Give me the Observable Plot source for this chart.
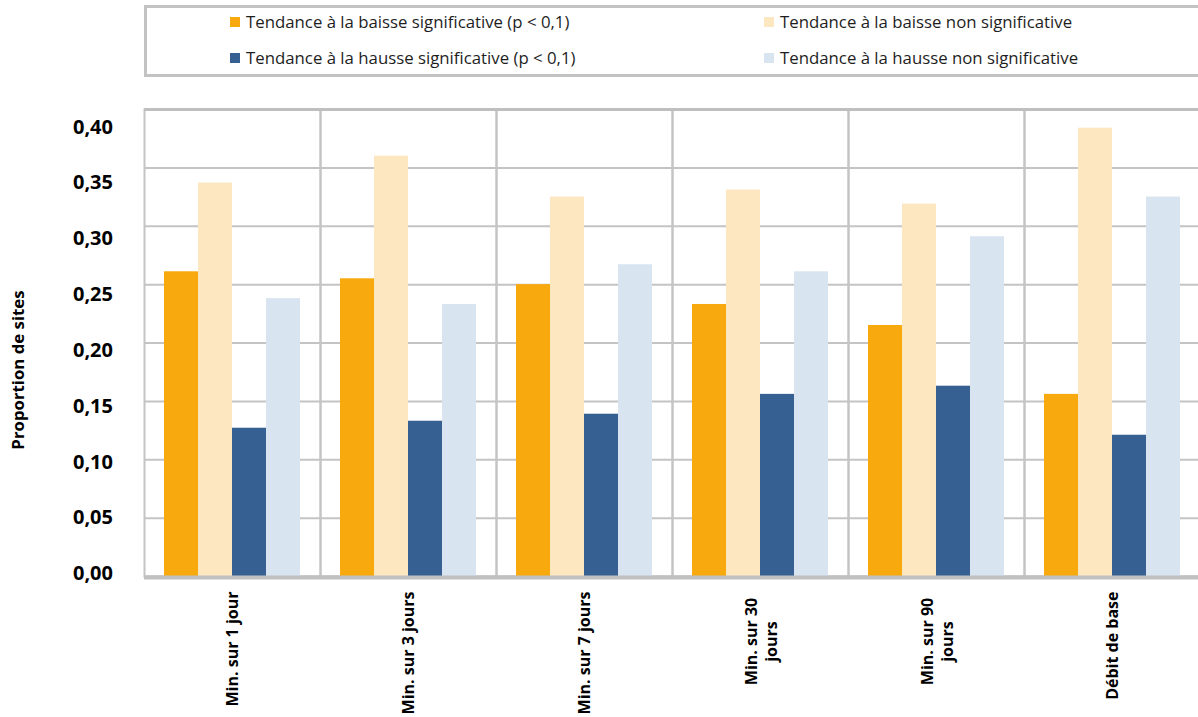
<!DOCTYPE html>
<html>
<head>
<meta charset="utf-8">
<script src="https://cdn.jsdelivr.net/npm/d3@7"></script>
<script src="https://cdn.jsdelivr.net/npm/@observablehq/plot@0.6"></script>
<style>
  html, body { margin: 0; padding: 0; background: #fff; overflow: hidden; }
  #chart { position: relative; width: 1198px; height: 717px; font-family: "Open Sans", sans-serif; }
  #legend { position: relative; height: 100px; }
  #legend .box { position: absolute; left: 144px; top: 5px; width: 1060px; height: 72px; box-sizing: border-box; border: 3px solid #c3c3c3; }
  #legend .item { position: absolute; height: 20px; line-height: 20px; display: flex; align-items: center; font-size: 16.8px; color: #1e1e1e; white-space: nowrap; }
  #legend .swatch { width: 10px; height: 10px; margin-right: 6px; flex: none; }
  #plots { position: relative; height: 617px; }
  #plots > svg { position: absolute; top: 0; left: 0; }
  #ytitle { position: absolute; left: 17px; top: 370px; transform: translate(-50%, -50%) rotate(-90deg); font-weight: 700; font-size: 16.8px; color: #000; white-space: nowrap; }
</style>
</head>
<body>
<div id="chart">
  <div id="legend"><div class="box"></div></div>
  <div id="plots"></div>
  <div id="ytitle">Proportion de sites</div>
</div>
<script>
// Durations over which the minimum flow is computed, plus base flow
const categories = [
  "Min. sur 1 jour",
  "Min. sur 3 jours",
  "Min. sur 7 jours",
  "Min. sur 30 jours",
  "Min. sur 90 jours",
  "Débit de base"
];

// Trend classes (legend order)
const series = [
  "Tendance à la baisse significative (p < 0,1)",
  "Tendance à la baisse non significative",
  "Tendance à la hausse significative (p < 0,1)",
  "Tendance à la hausse non significative"
];

// Proportion of sites per trend class, one value per category
const baisseSignificative    = [0.261, 0.255, 0.250, 0.233, 0.215, 0.156];
const baisseNonSignificative = [0.337, 0.360, 0.325, 0.331, 0.319, 0.384];
const hausseSignificative    = [0.127, 0.133, 0.139, 0.156, 0.163, 0.121];
const hausseNonSignificative = [0.238, 0.233, 0.267, 0.261, 0.291, 0.325];

const colors = ["#F7A90D", "#FDE7C0", "#366092", "#D8E4F0"];

const yTicks = [0, 0.05, 0.10, 0.15, 0.20, 0.25, 0.30, 0.35, 0.40];

// Category labels that wrap onto two lines under the axis
const wrappedLabels = new Map([
  ["Min. sur 30 jours", "Min. sur 30\njours"],
  ["Min. sur 90 jours", "Min. sur 90\njours"]
]);

const valeurs = [baisseSignificative, baisseNonSignificative, hausseSignificative, hausseNonSignificative];
const rows = series.flatMap((s, j) =>
  categories.map((c, i) => ({categorie: c, serie: s, valeur: valeurs[j][i]}))
);

const fmt = d => d.toFixed(2).replace(".", ",");

// Legend: two columns, two rows
const legendPos = [[230, 12], [764, 12], [230, 48], [764, 48]];
const legend = d3.select("#legend");
series.forEach((s, i) => {
  const item = legend.append("div").attr("class", "item")
    .style("left", legendPos[i][0] + "px")
    .style("top", legendPos[i][1] + "px");
  item.append("span").attr("class", "swatch").style("background", colors[i]);
  item.append("span").text(s);
});

const axisText = {
  anchor: "bottom",
  tickSize: 0,
  tickPadding: 15,
  tickRotate: -90,
  fontSize: 16,
  fontWeight: "bold",
  fill: "#000",
  label: null
};

const main = Plot.plot({
  width: 1203,
  height: 617,
  marginTop: 9,
  marginBottom: 141,
  marginLeft: 142,
  marginRight: 1,
  style: {fontFamily: "Open Sans", maxWidth: "none", overflow: "visible", background: "transparent"},
  fx: {domain: categories, padding: 0, axis: null},
  x: {domain: series, paddingInner: 0, paddingOuter: 0.55, axis: null},
  y: {domain: [0, 0.40], axis: null},
  color: {domain: series, range: colors},
  marks: [
    Plot.gridY(yTicks, {stroke: "#c4c4c4", strokeWidth: 2, strokeOpacity: 1}),
    Plot.frame({stroke: "#c4c4c4", strokeWidth: 2}),
    Plot.barY(rows, {fx: "categorie", x: "serie", y: "valeur", fill: "serie"}),
    Plot.ruleY([0.40], {stroke: "#bfbfbf", strokeWidth: 3}),
    Plot.ruleY([0], {stroke: "#c0c0c0", strokeWidth: 4, dy: 1}),
    // single-line labels end just under the axis
    Plot.axisFx({...axisText, filter: d => !wrappedLabels.has(d), textAnchor: "end", lineAnchor: "middle"}),
    // wrapped labels: each line centred on the longest one
    Plot.axisFx({...axisText, filter: d => wrappedLabels.has(d), textAnchor: "middle", lineAnchor: "middle",
      lineHeight: 1.25, dy: 50, tickFormat: d => wrappedLabels.get(d)})
  ]
});

// Value labels of the vertical axis
const yLabels = Plot.plot({
  width: 150,
  height: 617,
  marginTop: 26.7,
  marginBottom: 143.7,
  marginLeft: 142,
  marginRight: 8,
  style: {fontFamily: "Open Sans", maxWidth: "none", overflow: "visible", background: "transparent"},
  y: {domain: [0, 0.40], axis: null},
  marks: [
    Plot.axisY(yTicks, {tickSize: 0, tickPadding: 29.5, tickFormat: fmt, fontSize: 20,
      fontWeight: "bold", fill: "#000", label: null})
  ]
});

const plots = document.getElementById("plots");
plots.append(main);
plots.append(yLabels);
</script>
</body>
</html>
